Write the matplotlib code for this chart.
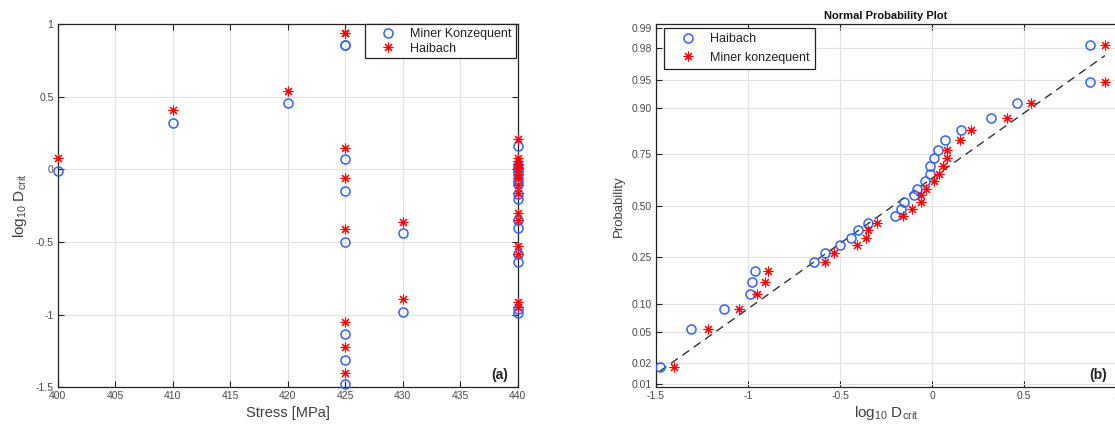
import numpy as np
import matplotlib
matplotlib.use("Agg")
import matplotlib.pyplot as plt
from matplotlib.lines import Line2D
from statistics import NormalDist

plt.rcParams['font.family'] = ['Liberation Sans', 'DejaVu Sans']
plt.rcParams['mathtext.fontset'] = 'custom'
plt.rcParams['mathtext.rm'] = 'Liberation Sans'
plt.rcParams['mathtext.it'] = 'Liberation Sans:italic'
plt.rcParams['mathtext.bf'] = 'Liberation Sans:bold'

# ---- data: one entry per specimen ----
stress = [400, 410, 420,
          425, 425, 425, 425, 425, 425, 425, 425,
          430, 430,
          440, 440, 440, 440, 440, 440, 440, 440, 440, 440, 440, 440, 440, 440, 440]
# log10 D_crit, Miner konzequent (blue circles)
d_miner = [-0.01, 0.32, 0.46,
           0.86, 0.86, 0.07, -0.15, -0.50, -1.13, -1.31, -1.48,
           -0.44, -0.98,
           -0.99, -0.96, -0.64, -0.58, -0.40, -0.35, -0.20, -0.17, -0.10, -0.08,
           -0.04, -0.01, 0.01, 0.03, 0.16]
# log10 D_crit, Haibach (red asterisks)
d_haibach = [0.08, 0.41, 0.54,
             0.94, 0.94, 0.15, -0.06, -0.41, -1.05, -1.22, -1.40,
             -0.36, -0.89,
             -0.95, -0.91, -0.58, -0.53, -0.35, -0.30, -0.16, -0.11, -0.06, -0.03,
             0.01, 0.04, 0.06, 0.08, 0.21]

prob_ticks = [0.01, 0.02, 0.05, 0.10, 0.25, 0.50, 0.75, 0.90, 0.95, 0.98, 0.99]

BLUE = '#3363ff'
RED = '#ff0000'
TXT = '#404040'
GRID = '#e2e2e2'
STAR = (8, 2, 0)
W, H = 1115, 426

fig = plt.figure(figsize=(W / 100, H / 100), dpi=100)


def px_axes(left, top, right, bottom):
    return fig.add_axes([left / W, 1 - bottom / H, (right - left) / W, (bottom - top) / H])


def style_axes(ax, right=True):
    ax.grid(True, color=GRID, lw=0.8)
    ax.set_axisbelow(True)
    ax.tick_params(direction='in', top=True, right=right, length=4, width=0.8,
                   labelsize=7.5, labelcolor='#4a4a4a', color='#222222', pad=3)
    for sp in ax.spines.values():
        sp.set_linewidth(0.9)
        sp.set_color('#222222')


def add_legend(ax, handles, anchor, loc, spacing, pad):
    leg = ax.legend(handles=handles, loc=loc, bbox_to_anchor=anchor,
                    borderaxespad=0, fontsize=9, fancybox=False, framealpha=1,
                    edgecolor='#222222', handlelength=3.0, handletextpad=0.3,
                    labelspacing=spacing, borderpad=pad)
    leg.get_frame().set_linewidth(0.9)
    for t in leg.get_texts():
        t.set_color('#222222')
    return leg


def circle(label):
    return Line2D([], [], ls='none', marker='o', ms=6.5, mfc='none', mec=BLUE, mew=1.1, label=label)


def star(label):
    return Line2D([], [], ls='none', marker=STAR, ms=7, color=RED, mew=0.8, label=label)


# ---- (a) log10 D_crit vs stress ----
ax1 = px_axes(57.7, 24.3, 517.5, 387.3)
ax1.plot(stress, d_miner, ls='none', marker='o', ms=6.5, mfc='none', mec=BLUE, mew=1.1,
         clip_on=False, zorder=3)
ax1.plot(stress, d_haibach, ls='none', marker=STAR, ms=7, color=RED, mew=0.8,
         clip_on=False, zorder=4)
ax1.set_xlim(400, 440)
ax1.set_ylim(-1.5, 1)
ax1.set_xticks(np.arange(400, 441, 5))
ax1.set_yticks([-1.5, -1, -0.5, 0, 0.5, 1])
ax1.set_yticklabels(['-1.5', '-1', '-0.5', '0', '0.5', '1'])
style_axes(ax1)
ax1.set_xlabel('Stress [MPa]', fontsize=10.5, color=TXT, labelpad=3)
ax1.set_ylabel(r'$\mathrm{log_{10}\ D_{crit}}$', fontsize=11, color=TXT, labelpad=5)
add_legend(ax1, [circle('Miner Konzequent'), star('Haibach')],
           (1 - 2 / 460, 1), 'upper right', 0.2, 0.3)
ax1.text(0.98, 0.034, '(a)', transform=ax1.transAxes, ha='right', va='center',
         fontsize=10, fontweight='bold', color='#222222')

# ---- (b) normal probability plot ----
nd = NormalDist()
n = len(d_miner)
z_pos = [nd.inv_cdf((i + 0.5) / n) for i in range(n)]
ax2 = px_axes(656, 24.3, 1116, 387.3)
ax2.plot(sorted(d_miner), z_pos, ls='none', marker='o', ms=6.5, mfc='none', mec=BLUE,
         mew=1.1, zorder=3)
ax2.plot(sorted(d_haibach), z_pos, ls='none', marker=STAR, ms=7, color=RED, mew=0.8,
         zorder=4)
# reference line: normal fit of the Haibach series
mu = np.mean(d_haibach)
sd = np.std(d_haibach, ddof=1)
all_vals = d_miner + d_haibach
xl = np.array([min(all_vals), max(all_vals)])
ax2.plot(xl, (xl - mu) / sd, color='#333333', lw=1.0, ls=(0, (6, 4)), zorder=2)

zlim = nd.inv_cdf(0.25 / n)
ax2.set_ylim(zlim, -zlim)
ax2.set_xlim(-1.5, 1)
ax2.set_xticks([-1.5, -1, -0.5, 0, 0.5, 1])
ax2.set_xticklabels(['-1.5', '-1', '-0.5', '0', '0.5', '1'])
ax2.set_yticks([nd.inv_cdf(p) for p in prob_ticks])
ax2.set_yticklabels(['%.2f' % p for p in prob_ticks])
style_axes(ax2, right=False)
ax2.set_xlabel(r'$\mathrm{log_{10}\ D_{crit}}$', fontsize=11, color=TXT, labelpad=2)
ax2.set_ylabel('Probability', fontsize=9.5, color=TXT, labelpad=5)
ax2.set_title('Normal Probability Plot', fontsize=8, fontweight='bold', color='#111111', pad=4)
add_legend(ax2, [circle('Haibach'), star('Miner konzequent')],
           (8 / 460, 1 - 4 / 363), 'upper left', 0.5, 0.4)
ax2.text(0.98, 0.034, '(b)', transform=ax2.transAxes, ha='right', va='center',
         fontsize=10, fontweight='bold', color='#222222')

fig.savefig('out.png', dpi=100)
